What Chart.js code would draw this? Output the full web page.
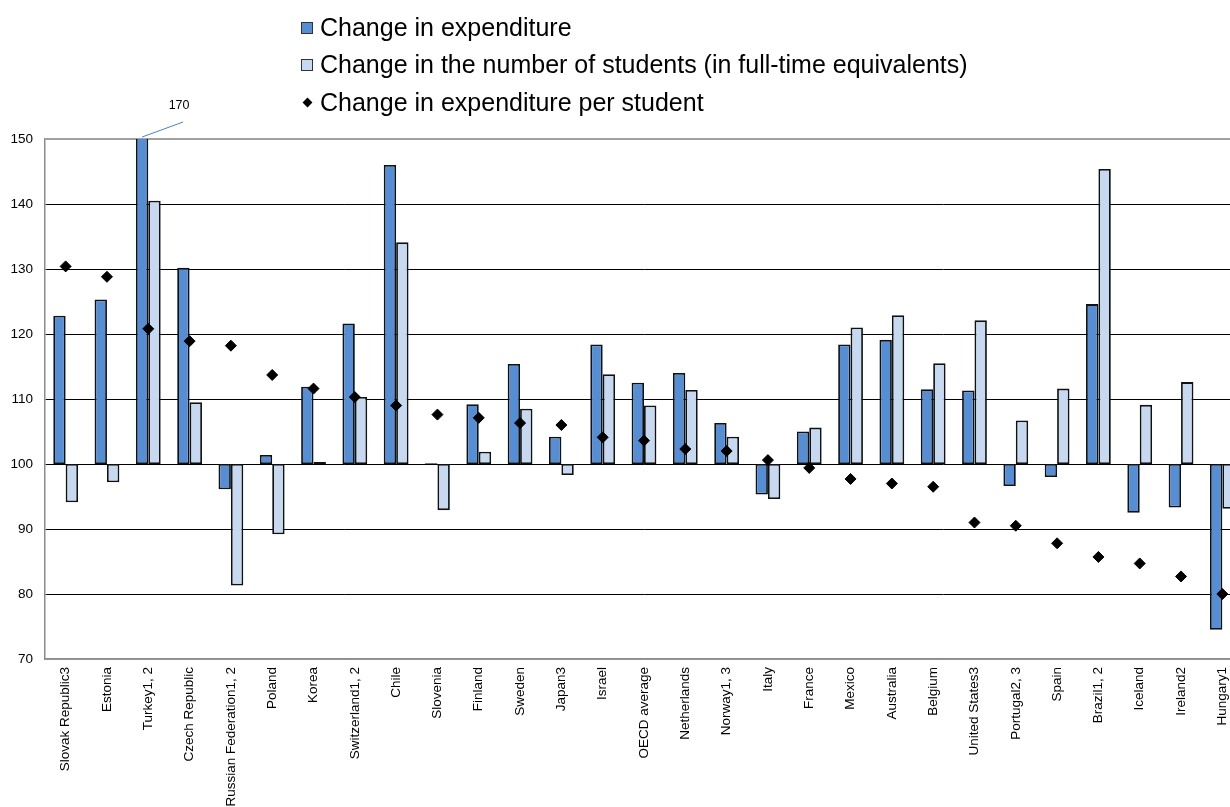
<!DOCTYPE html>
<html>
<head>
<meta charset="utf-8">
<script src="https://cdn.jsdelivr.net/npm/chart.js@4/dist/chart.umd.min.js"></script>
<style>
html,body{margin:0;padding:0;background:#fff;overflow:hidden;width:1230px;height:807px;}
#wrap{position:absolute;left:0;top:0;width:1243px;height:807px;}
#c{display:block;}
#legend{position:absolute;left:300px;top:9px;font-family:"Liberation Sans",Arial,sans-serif;font-size:25px;color:#000;z-index:2;}
.row{display:flex;align-items:center;height:37.3px;line-height:37.3px;white-space:nowrap;}
.mk{width:14px;height:14px;margin-right:6px;position:relative;flex:none;}
.sq{position:absolute;left:1px;top:1px;width:10px;height:10px;border:1px solid #333;}
.dm{position:absolute;left:4px;top:3.5px;width:7px;height:7px;background:#000;transform:rotate(45deg);}
</style>
</head>
<body>
<div id="legend"></div>
<div id="wrap"><canvas id="c" width="1243" height="807" style="width:1243px;height:807px"></canvas></div>
<script>
// ---- data ----
const categories = ["Slovak Republic3","Estonia","Turkey1, 2","Czech Republic","Russian Federation1, 2","Poland","Korea","Switzerland1, 2","Chile","Slovenia","Finland","Sweden","Japan3","Israel","OECD average","Netherlands","Norway1, 3","Italy","France","Mexico","Australia","Belgium","United States3","Portugal2, 3","Spain","Brazil1, 2","Iceland","Ireland2","Hungary1"];
const expenditure = [122.8,125.3,170,130.2,96.1,101.4,111.9,121.6,146.0,100.1,109.2,115.4,104.2,118.4,112.5,114.0,106.3,95.3,105.0,118.4,119.1,111.5,111.3,96.6,98.0,124.6,92.5,93.3,74.5];
const students = [94.1,97.2,140.5,109.5,81.3,89.2,100.3,110.3,134.1,92.9,101.9,108.5,98.3,113.8,109.0,111.4,104.2,94.6,105.6,121.0,122.9,115.5,122.1,106.7,111.6,145.4,109.1,112.6,93.1];
const perStudent = [130.4,128.8,120.8,118.9,118.2,113.7,111.6,110.3,109.0,107.6,107.1,106.3,106.0,104.1,103.6,102.3,102.0,100.6,99.4,97.7,97.0,96.5,91.0,90.5,87.8,85.7,84.7,82.7,80.0];
const seriesNames = ["Change in expenditure","Change in the number of students (in full-time equivalents)","Change in expenditure per student"];
const yTicks = [70,80,90,100,110,120,130,140,150];
const BASE = 100;

const COL_DARK = '#558ED5', COL_LIGHT = '#C6D9F1';
const FONT = '"Liberation Sans", Arial, sans-serif';

// ---- HTML legend ----
const leg = document.getElementById('legend');
const markers = [
  '<span class="mk"><span class="sq" style="background:'+COL_DARK+'"></span></span>',
  '<span class="mk"><span class="sq" style="background:'+COL_LIGHT+'"></span></span>',
  '<span class="mk"><span class="dm"></span></span>'
];
seriesNames.forEach((n,i)=>{
  const r = document.createElement('div');
  r.className = 'row';
  r.innerHTML = markers[i] + '<span>' + n + '</span>';
  leg.appendChild(r);
});

const yMin = yTicks[0], yMax = yTicks[yTicks.length-1];

// annotation for clipped bars
const overflowLabel = {
  id: 'overflowLabel',
  afterDatasetsDraw(chart) {
    const meta = chart.getDatasetMeta(1);
    const ctx = chart.ctx;
    const top = chart.chartArea.top;
    expenditure.forEach((v,i)=>{
      if (v > yMax) {
        const el = meta.data[i];
        const x = el.x;
        ctx.save();
        ctx.strokeStyle = '#4F81BD';
        ctx.lineWidth = 1;
        ctx.beginPath();
        ctx.moveTo(x, top - 2);
        ctx.lineTo(x + 41, top - 17);
        ctx.stroke();
        ctx.fillStyle = '#000';
        ctx.font = '12.5px ' + FONT;
        ctx.textAlign = 'center';
        ctx.textBaseline = 'middle';
        ctx.fillText(String(v), x + 37, top - 33);
        ctx.restore();
      }
    });
  }
};

new Chart(document.getElementById('c'), {
  data: {
    labels: categories,
    datasets: [
      {
        type: 'line', label: seriesNames[2], data: perStudent,
        showLine: false, pointStyle: 'rectRot', pointRadius: 5.5, pointHoverRadius: 5.5,
        backgroundColor: '#000', borderColor: '#000', borderWidth: 1, order: 0, clip: false
      },
      {
        type: 'bar', label: seriesNames[0], data: expenditure.map(v=>[BASE, v]),
        backgroundColor: COL_DARK, borderColor: '#111', borderWidth: 1.8, borderSkipped: false,
        clip: 0, order: 1
      },
      {
        type: 'bar', label: seriesNames[1], data: students.map(v=>[BASE, v]),
        backgroundColor: COL_LIGHT, borderColor: '#111', borderWidth: 1.8, borderSkipped: false,
        clip: 0, order: 1
      }
    ]
  },
  options: {
    responsive: false,
    animation: false,
    devicePixelRatio: 1,
    events: [],
    layout: { autoPadding: false, padding: { top: 139, left: 0, right: 0, bottom: 0 } },
    datasets: { bar: { categoryPercentage: 0.6, barPercentage: 1.0 } },
    plugins: { legend: { display: false }, tooltip: { enabled: false } },
    scales: {
      x: {
        offset: true,
        grid: { display: false, drawTicks: false },
        border: { display: true, color: '#8c8c8c', width: 1.5 },
        ticks: {
          autoSkip: false, maxRotation: 90, minRotation: 90, padding: 8,
          color: '#000', font: { family: FONT, size: 13.5 }
        },
        afterFit(scale) { scale.height = 148; scale.paddingLeft = 0; scale.paddingRight = 0; }
      },
      y: {
        min: yMin, max: yMax,
        afterBuildTicks(scale) { scale.ticks = yTicks.map(v=>({value:v})); },
        grid: {
          drawTicks: false,
          color: c => (c.tick && (c.tick.value === yMax || c.tick.value === yMin)) ? '#a0a0a0' : '#000',
          lineWidth: c => (c.tick && c.tick.value === yMax) ? 2 : 1
        },
        border: { display: true, color: '#8c8c8c', width: 1.5 },
        ticks: { padding: 12, color: '#000', font: { family: FONT, size: 13.5 } },
        afterFit(scale) { scale.width = 45; scale.paddingTop = 0; scale.paddingBottom = 0; }
      }
    }
  },
  plugins: [overflowLabel]
});
</script>
</body>
</html>
